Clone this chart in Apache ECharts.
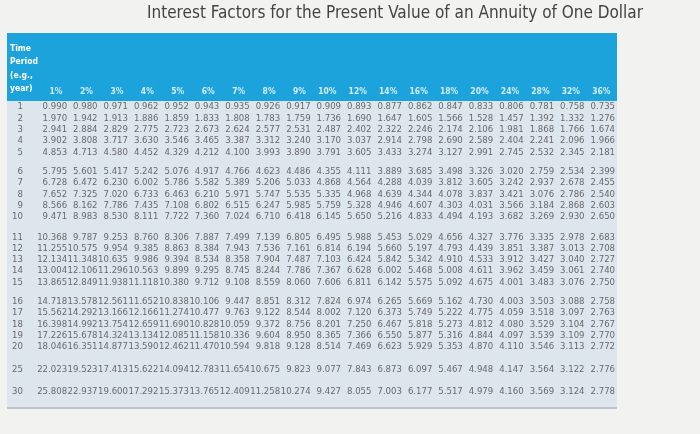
<!DOCTYPE html>
<html>
<head>
<meta charset="utf-8">
<script src="https://cdn.jsdelivr.net/npm/echarts@6/dist/echarts.min.js"></script>
<style>html,body{margin:0;padding:0;background:#f2f2f0;}#chart{width:700px;height:434px;}</style>
</head>
<body>
<div id="chart"></div>
<script>
var rates = ['1%','2%','3%','4%','5%','6%','7%','8%','9%','10%','12%','14%','16%','18%','20%','24%','28%','32%','36%'];
var periods = [1,2,3,4,5,6,7,8,9,10,11,12,13,14,15,16,17,18,19,20,25,30];
// row slot positions (blocks of five with gaps)
var slots = [0,1,2,3,4, 5.7,6.7,7.7,8.7,9.7, 11.5,12.5,13.5,14.5,15.5, 17.2,18.2,19.2,20.2,21.2, 23.2,25.2];
var factors = [
 ['0.990','0.980','0.971','0.962','0.952','0.943','0.935','0.926','0.917','0.909','0.893','0.877','0.862','0.847','0.833','0.806','0.781','0.758','0.735'],
 ['1.970','1.942','1.913','1.886','1.859','1.833','1.808','1.783','1.759','1.736','1.690','1.647','1.605','1.566','1.528','1.457','1.392','1.332','1.276'],
 ['2.941','2.884','2.829','2.775','2.723','2.673','2.624','2.577','2.531','2.487','2.402','2.322','2.246','2.174','2.106','1.981','1.868','1.766','1.674'],
 ['3.902','3.808','3.717','3.630','3.546','3.465','3.387','3.312','3.240','3.170','3.037','2.914','2.798','2.690','2.589','2.404','2.241','2.096','1.966'],
 ['4.853','4.713','4.580','4.452','4.329','4.212','4.100','3.993','3.890','3.791','3.605','3.433','3.274','3.127','2.991','2.745','2.532','2.345','2.181'],
 ['5.795','5.601','5.417','5.242','5.076','4.917','4.766','4.623','4.486','4.355','4.111','3.889','3.685','3.498','3.326','3.020','2.759','2.534','2.399'],
 ['6.728','6.472','6.230','6.002','5.786','5.582','5.389','5.206','5.033','4.868','4.564','4.288','4.039','3.812','3.605','3.242','2.937','2.678','2.455'],
 ['7.652','7.325','7.020','6.733','6.463','6.210','5.971','5.747','5.535','5.335','4.968','4.639','4.344','4.078','3.837','3.421','3.076','2.786','2.540'],
 ['8.566','8.162','7.786','7.435','7.108','6.802','6.515','6.247','5.985','5.759','5.328','4.946','4.607','4.303','4.031','3.566','3.184','2.868','2.603'],
 ['9.471','8.983','8.530','8.111','7.722','7.360','7.024','6.710','6.418','6.145','5.650','5.216','4.833','4.494','4.193','3.682','3.269','2.930','2.650'],
 ['10.368','9.787','9.253','8.760','8.306','7.887','7.499','7.139','6.805','6.495','5.988','5.453','5.029','4.656','4.327','3.776','3.335','2.978','2.683'],
 ['11.255','10.575','9.954','9.385','8.863','8.384','7.943','7.536','7.161','6.814','6.194','5.660','5.197','4.793','4.439','3.851','3.387','3.013','2.708'],
 ['12.134','11.348','10.635','9.986','9.394','8.534','8.358','7.904','7.487','7.103','6.424','5.842','5.342','4.910','4.533','3.912','3.427','3.040','2.727'],
 ['13.004','12.106','11.296','10.563','9.899','9.295','8.745','8.244','7.786','7.367','6.628','6.002','5.468','5.008','4.611','3.962','3.459','3.061','2.740'],
 ['13.865','12.849','11.938','11.118','10.380','9.712','9.108','8.559','8.060','7.606','6.811','6.142','5.575','5.092','4.675','4.001','3.483','3.076','2.750'],
 ['14.718','13.578','12.561','11.652','10.838','10.106','9.447','8.851','8.312','7.824','6.974','6.265','5.669','5.162','4.730','4.003','3.503','3.088','2.758'],
 ['15.562','14.292','13.166','12.166','11.274','10.477','9.763','9.122','8.544','8.002','7.120','6.373','5.749','5.222','4.775','4.059','3.518','3.097','2.763'],
 ['16.398','14.992','13.754','12.659','11.690','10.828','10.059','9.372','8.756','8.201','7.250','6.467','5.818','5.273','4.812','4.080','3.529','3.104','2.767'],
 ['17.226','15.678','14.324','13.134','12.085','11.158','10.336','9.604','8.950','8.365','7.366','6.550','5.877','5.316','4.844','4.097','3.539','3.109','2.770'],
 ['18.046','16.351','14.877','13.590','12.462','11.470','10.594','9.818','9.128','8.514','7.469','6.623','5.929','5.353','4.870','4.110','3.546','3.113','2.772'],
 ['22.023','19.523','17.413','15.622','14.094','12.783','11.654','10.675','9.823','9.077','7.843','6.873','6.097','5.467','4.948','4.147','3.564','3.122','2.776'],
 ['25.808','22.937','19.600','17.292','15.373','13.765','12.409','11.258','10.274','9.427','8.055','7.003','6.177','5.517','4.979','4.160','3.569','3.124','2.778']
];

var font = '"DejaVu Sans Condensed", "Liberation Sans", sans-serif';
var cells = [], rowLabels = [], headLabels = [];
factors.forEach(function (row, r) {
    row.forEach(function (v, c) { cells.push([c, slots[r], v]); });
    rowLabels.push([-1.45, slots[r], String(periods[r])]);
});
rates.forEach(function (p, c) { headLabels.push([c - 0.15, -1.35, p]); });

function textSeries(data, color, size, weight) {
    return {
        type: 'scatter', data: data, symbolSize: 0, silent: true,
        label: {
            show: true, position: 'inside', align: 'right',
            formatter: function (p) { return p.data[2]; },
            color: color, fontSize: size, fontWeight: weight, fontFamily: font
        }
    };
}

var myChart = echarts.init(document.getElementById('chart'));
var option = {
    backgroundColor: '#f2f2f0',
    animation: false,
    grid: {left: 6.2, right: 85, top: 84.4, bottom: 42},
    xAxis: {type: 'value', min: -2, max: 18, show: false},
    yAxis: {type: 'value', min: -2, max: 25.2, inverse: true, show: false},
    graphic: [
        {type: 'rect', shape: {x: 7, y: 33, width: 610, height: 68}, style: {fill: '#1ca3dc'}, z: -10},
        {type: 'rect', shape: {x: 7, y: 101, width: 610, height: 306}, style: {fill: '#dde6ed'}, z: -10},
        {type: 'rect', shape: {x: 7, y: 407, width: 610, height: 2}, style: {fill: '#b9c4cc'}, z: -10},
        {type: 'text', x: 395, y: 5, style: {text: 'Interest Factors for the Present Value of an Annuity of One Dollar',
            fill: '#444', font: '17px "DejaVu Sans Condensed", sans-serif', textAlign: 'center'}},
        {type: 'text', x: 10, y: 42, style: {text: 'Time\nPeriod\n(e.g.,\nyear)', fill: '#fff',
            font: 'bold 8.5px ' + font, lineHeight: 13.5}}
    ],
    series: [
        textSeries(cells, '#4a4a4a', 9.5, 'normal'),
        textSeries(rowLabels, '#4a4a4a', 9.5, 'normal'),
        textSeries(headLabels, '#ffffff', 8.5, 'bold')
    ]
};
myChart.setOption(option);
</script>
</body>
</html>
